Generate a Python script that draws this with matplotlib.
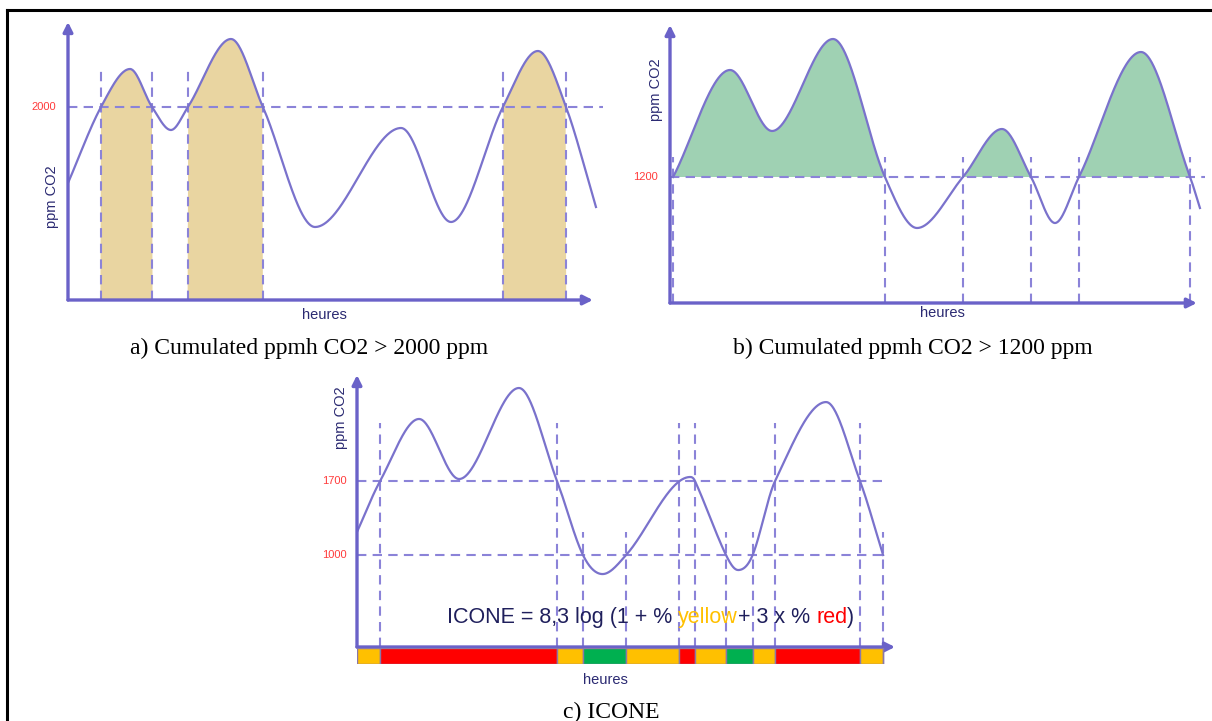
import numpy as np
import matplotlib
matplotlib.use("Agg")
import matplotlib.pyplot as plt
from matplotlib.lines import Line2D

plt.rcParams['font.family'] = ['Liberation Sans', 'DejaVu Sans']

# ---- data (hours, ppm CO2) ----
# panel a: threshold 2000 ppm
t_a = [0, 1.5, 2.82, 3.82, 4.68, 5.45, 7.41, 8.86, 11.23, 15.14, 17.41,
       19.77, 21.36, 22.64, 24.0]
ppm_a = [1240, 2000, 2380, 2000, 1770, 2000, 2680, 2000, 800, 1790, 850,
         2000, 2560, 2000, 1000]
cross_a = [1.5, 3.82, 5.45, 8.86, 19.77, 22.64]

# panel b: threshold 1200 ppm
t_b = [0.14, 2.73, 4.64, 7.41, 9.77, 11.23, 13.32, 15.09, 16.41, 17.5, 18.59,
       21.41, 23.64, 24.09]
ppm_b = [1200, 2163, 1614, 2442, 1200, 741, 1200, 1632, 1200, 786, 1200,
         2325, 1200, 921]
cross_b = [0.14, 9.77, 13.32, 16.41, 18.59, 23.64]

# panel c: thresholds 1000 / 1700 ppm
t_c = [0, 1.05, 2.82, 4.64, 7.36, 9.09, 10.27, 11.16, 12.23, 15.14,
       15.36, 16.77, 17.32, 17.98, 19.0, 21.32, 22.86, 23.91]
ppm_c = [1218, 1700, 2287, 1719, 2580, 1700, 1000, 820, 1000, 1738,
         1700, 1000, 858, 1000, 1700, 2447, 1700, 1000]
cross_c_high = [1.05, 9.09, 14.64, 15.36, 19.0, 22.86]
cross_c_low = [10.27, 12.23, 16.77, 17.98, 23.91]
band_edges = [0, 1.05, 9.09, 10.27, 12.23, 14.64, 15.36, 16.77, 17.98, 19.0, 22.86, 23.91]
band_class = ['yellow', 'red', 'yellow', 'green', 'yellow', 'red', 'yellow',
              'green', 'yellow', 'red', 'yellow']

AXIS = '#6a62c8'
CURVE = '#7a72cc'
DASH = '#8b83d8'
NAVY = '#2b2a72'
LABEL_RED = '#ff3b3b'
BAND_COLORS = {'yellow': '#ffc000', 'red': '#ff0000', 'green': '#00b050'}

W, H = 1212, 721
fig = plt.figure(figsize=(W / 100, H / 100), dpi=100)


def place(x0, y0, x1, y1):
    ax = fig.add_axes([x0 / W, 1 - y1 / H, (x1 - x0) / W, (y1 - y0) / H])
    ax.set_axis_off()
    return ax


def smooth(x, y, xs):
    # cubic hermite through the knots: flat at extrema, central slope elsewhere
    x = np.asarray(x, float)
    y = np.asarray(y, float)
    h = np.diff(x)
    d = np.diff(y) / h
    m = np.zeros_like(y)
    for k in range(1, len(x) - 1):
        if d[k - 1] * d[k] > 0:
            m[k] = (y[k + 1] - y[k - 1]) / (x[k + 1] - x[k - 1])
    m[0], m[-1] = d[0], d[-1]
    i = np.clip(np.searchsorted(x, xs) - 1, 0, len(h) - 1)
    s = (xs - x[i]) / h[i]
    h00 = 2 * s**3 - 3 * s**2 + 1
    h10 = s**3 - 2 * s**2 + s
    h01 = -2 * s**3 + 3 * s**2
    h11 = s**3 - s**2
    return h00 * y[i] + h10 * h[i] * m[i] + h01 * y[i + 1] + h11 * h[i] * m[i + 1]


def axes_arrows(ax, x_tip, y0, y_top):
    style = dict(arrowstyle='-|>', color=AXIS, lw=2.4, mutation_scale=14,
                 shrinkA=0, shrinkB=0)
    ax.annotate('', xy=(x_tip, y0), xytext=(0, y0), arrowprops=style,
                annotation_clip=False, zorder=6)
    ax.annotate('', xy=(0, y_top), xytext=(0, y0), arrowprops=style,
                annotation_clip=False, zorder=6)


dash_kw = dict(color=DASH, lw=1.5, linestyle=(0, (4.5, 3)), zorder=3)
thr_kw = dict(ha='right', va='center', color=LABEL_RED, fontsize=8)

# ---- panel a ----
ax = place(68, 22, 603, 300)
ax.set_xlim(0, 24.32)
ax.set_ylim(70, 2850)
ts = np.linspace(t_a[0], t_a[-1], 800)
ya = smooth(t_a, ppm_a, ts)
ax.fill_between(ts, 70, ya, where=ya >= 2000, interpolate=True,
                color='#e9d5a1', lw=0, zorder=1)
ax.axhline(2000, **dash_kw)
ax.vlines(cross_a, 70, 2360, **dash_kw)
ax.plot(ts, ya, color=CURVE, lw=1.6, zorder=4)
axes_arrows(ax, 23.86, 70, 2850)
ax.text(-0.55, 2000, '2000', **thr_kw)

# ---- panel b ----
ax = place(670, 25, 1205, 303)
ax.set_xlim(0, 24.32)
ax.set_ylim(66, 2568)
ts = np.linspace(t_b[0], t_b[-1], 800)
yb = smooth(t_b, ppm_b, ts)
ax.fill_between(ts, 1200, yb, where=yb >= 1200, interpolate=True,
                color='#9fd1b3', lw=0, zorder=1)
ax.axhline(1200, **dash_kw)
ax.vlines(cross_b, 66, 1380, **dash_kw)
ax.plot(ts, yb, color=CURVE, lw=1.6, zorder=4)
axes_arrows(ax, 23.95, 66, 2568)
ax.text(-0.55, 1200, '1200', **thr_kw)

# ---- panel c ----
ax = place(357, 375, 895, 647)
ax.set_xlim(0, 24.45)
ax.set_ylim(130, 2703)
ts = np.linspace(t_c[0], t_c[-1], 800)
yc = smooth(t_c, ppm_c, ts)
ax.hlines([1700, 1000], 0, 24.0, **dash_kw)
ax.vlines(cross_c_high, 130, 2249, **dash_kw)
ax.vlines(cross_c_low, 130, 1218, **dash_kw)
ax.plot(ts, yc, color=CURVE, lw=1.6, zorder=4)
axes_arrows(ax, 24.45, 130, 2703)
ax.text(-0.45, 1700, '1700', **thr_kw)
ax.text(-0.45, 1000, '1000', **thr_kw)

parts = [('ICONE = 8,3 log (1 + % ', '#1f1f5c'), ('yellow', '#ffc000'),
         ('+ 3 x % ', '#1f1f5c'), ('red', '#ff0000'), (')', '#1f1f5c')]
prev = ax.text(4.09, 413, parts[0][0], color=parts[0][1], fontsize=15.5,
               ha='left', va='center', zorder=5)
for txt, col in parts[1:]:
    prev = ax.annotate(txt, xy=(1, 0), xycoords=prev, va='bottom', ha='left',
                       color=col, fontsize=15.5, zorder=5)

bar = place(357, 648, 895, 664)
bar.set_xlim(0, 24.45)
bar.set_ylim(0, 1)
bar.broken_barh(list(zip(band_edges, np.diff(band_edges + [t_c[-1]]))), (0, 1),
                facecolors=[BAND_COLORS[c] for c in band_class],
                edgecolor='#8a78a8', lw=1.0)

# ---- labels ----
lab = dict(color=NAVY, fontsize=10.5, ha='center', va='center')
fig.text(52 / W, 1 - 197 / H, 'ppm CO2', rotation=90, **lab)
fig.text(656 / W, 1 - 90 / H, 'ppm CO2', rotation=90, **lab)
fig.text(341 / W, 1 - 418 / H, 'ppm CO2', rotation=90, **lab)
fig.text(324 / W, 1 - 315 / H, 'heures', **lab)
fig.text(942 / W, 1 - 313 / H, 'heures', **lab)
fig.text(605 / W, 1 - 680 / H, 'heures', **lab)

cap = dict(family='Liberation Serif', fontsize=17, ha='center', va='center', color='black')
fig.text(309 / W, 1 - 348 / H, 'a) Cumulated ppmh CO2 > 2000 ppm', **cap)
fig.text(913 / W, 1 - 348 / H, 'b) Cumulated ppmh CO2 > 1200 ppm', **cap)
fig.text(611 / W, 1 - 712 / H, 'c) ICONE', **cap)

# frame (top and left edges only visible)
fig.add_artist(Line2D([7 / W, 1], [1 - 10 / H, 1 - 10 / H], color='black', lw=2.2))
fig.add_artist(Line2D([7 / W, 7 / W], [0, 1 - 10 / H], color='black', lw=2.2))

fig.savefig('out.png', dpi=100)
